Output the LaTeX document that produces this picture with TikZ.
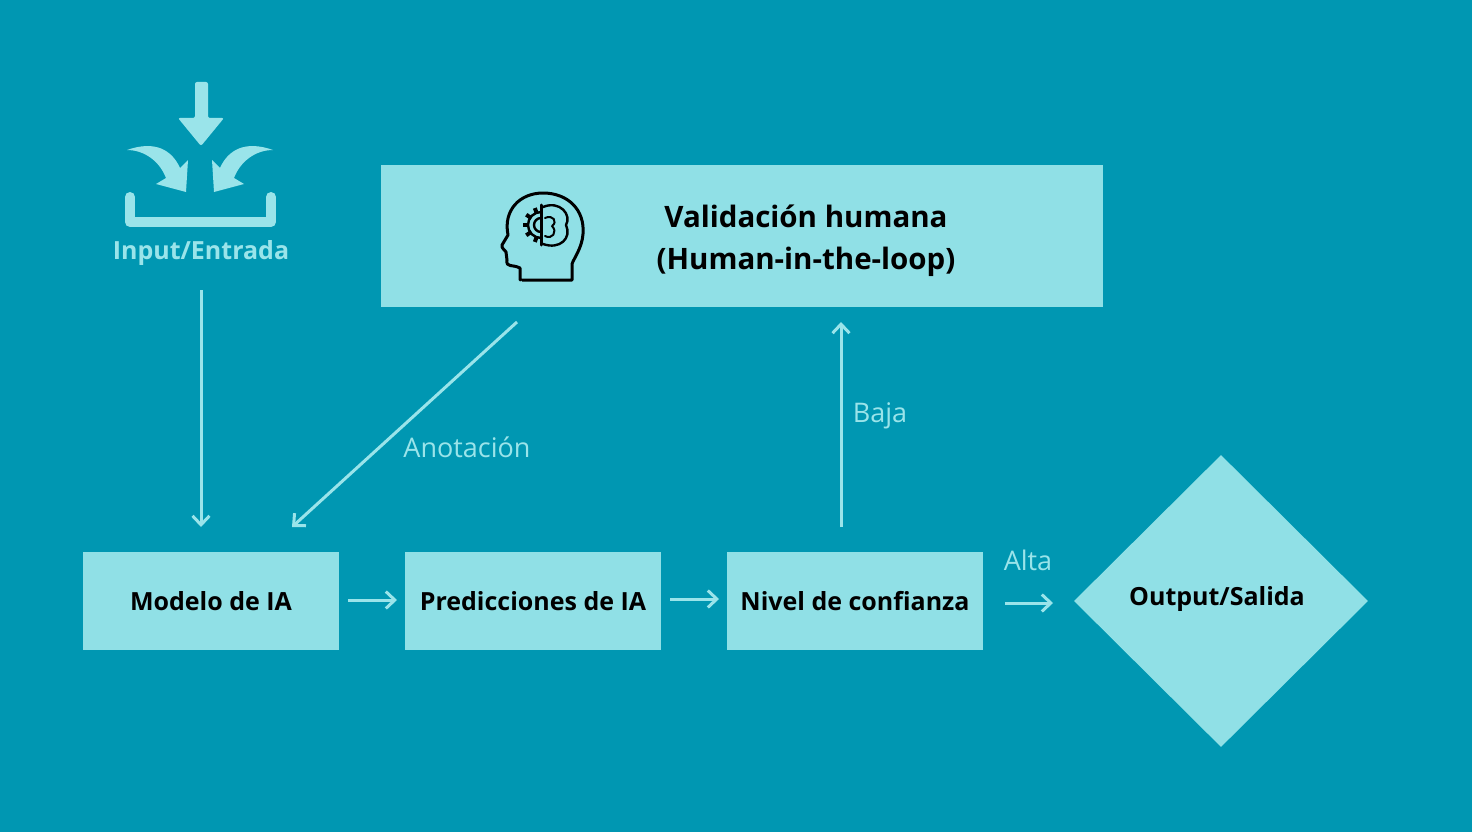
\documentclass[tikz,border=0pt]{standalone}
\usepackage{fontspec}
\setmainfont{Open Sans}
\usetikzlibrary{arrows.meta,shapes.geometric}
\definecolor{bgc}{HTML}{0097B2}
\definecolor{boxc}{HTML}{90E0E6}
\definecolor{linec}{HTML}{9AE4EA}
\tikzset{
 box/.style={fill=boxc,draw=none,minimum width=256pt,minimum height=98pt,font=\bfseries\fontsize{25}{30}\selectfont,text=black},
 conn/.style={draw=linec,line width=3pt,-{Straight Barb[length=9pt,width=17pt,line width=3pt]}},
 lbl/.style={text=linec,font=\fontsize{27}{32}\selectfont},
}
\begin{document}
\begin{tikzpicture}[x=1pt,y=-1pt]
\fill[bgc] (0,0) rectangle (1472,832);
\useasboundingbox (0,0) rectangle (1472,832);
% validation box
\node[box,minimum width=722pt,minimum height=142pt] (val) at (742,236) {};
\node[font=\bfseries\fontsize{29.5}{42}\selectfont,align=center] (valt) at (806,241) {Validación humana\\(Human-in-the-loop)};
% head icon
\begin{scope}[line width=3pt,line join=round,line cap=round]
\draw (520,280) -- (520,268) .. controls (512,264) and (506,268) .. (507,260)
 -- (506,252) .. controls (505,250) and (501,248) .. (502,245) -- (508,235)
 .. controls (503,210) and (520,193) .. (543,193) .. controls (568,193) and (585,210) .. (583,234)
 .. controls (582,248) and (574,258) .. (572,264) -- (572,280) -- (522,280);
\draw[line width=2.4pt] (541,225) ++(90:7) arc (90:270:7);
\draw (541,205) -- (541,245);
\foreach \a in {110,145,180,215,250} \draw[line width=4pt,line cap=butt] (541,225) ++(\a:12) -- ++(\a:6);
\draw[line width=2.4pt] (541,225) ++(90:13) arc (90:270:13);
\draw[line width=2.4pt] (543,207) .. controls (560,200) and (572,215) .. (566,225) .. controls (572,238) and (560,250) .. (543,244);
\draw[line width=2pt] (545,218) .. controls (553,214) and (558,222) .. (552,226) .. controls (558,232) and (552,240) .. (545,236);
\end{scope}
\node[box] (mod) at (211,601) {Modelo de IA};
\node[box] (pre) at (533,601) {Predicciones de IA};
\node[box] (niv) at (855,601) {Nivel de confianza};
\node[diamond,fill=boxc,minimum width=294pt,minimum height=292pt,inner sep=0pt] (out) at (1221,601) {};
\node[font=\bfseries\fontsize{25}{30}\selectfont] (outt) at (1217,599) {Output/Salida};
% input icon
\node[text=linec,font=\bfseries\fontsize{25}{30}\selectfont] (inp) at (201,253) {Input/Entrada};
\fill[linec,rounded corners=2pt] (195,82) -- (208,82) -- (208,118) -- (224,118) -- (201,146) -- (178,118) -- (195,118) -- cycle;
\fill[linec] (127,150) .. controls (155,140) and (172,150) .. (180,168) -- (188,160) -- (186,192) -- (156,184) -- (166,178) .. controls (160,162) and (145,150) .. (127,150) -- cycle;
\fill[linec] (273,150) .. controls (245,140) and (228,150) .. (220,168) -- (212,160) -- (214,192) -- (244,184) -- (234,178) .. controls (240,162) and (255,150) .. (273,150) -- cycle;
\draw[linec,line width=10pt,line cap=round,line join=round] (130,197) -- (130,222) -- (271,222) -- (271,197);
% connectors
\coordinate (a1) at (201,290); \coordinate (a2) at (201,527);
\draw[conn] (a1) -- (a2);
\coordinate (b1) at (517,322); \coordinate (b2) at (292,527);
\draw[conn] (b1) -- (b2);
\coordinate (c1) at (348,600); \coordinate (c2) at (397,600);
\draw[conn] (c1) -- (c2);
\coordinate (d1) at (670,599); \coordinate (d2) at (719,599);
\draw[conn] (d1) -- (d2);
\coordinate (e1) at (841,527); \coordinate (e2) at (841,322);
\draw[conn] (e1) -- (e2);
\coordinate (f1) at (1005,603); \coordinate (f2) at (1053,603);
\draw[conn] (f1) -- (f2);
\node[lbl] (la) at (467,447) {Anotación};
\node[lbl] (lb) at (880,416) {Baja};
\node[lbl] (lc) at (1028,560) {Alta};
\end{tikzpicture}
\end{document}
